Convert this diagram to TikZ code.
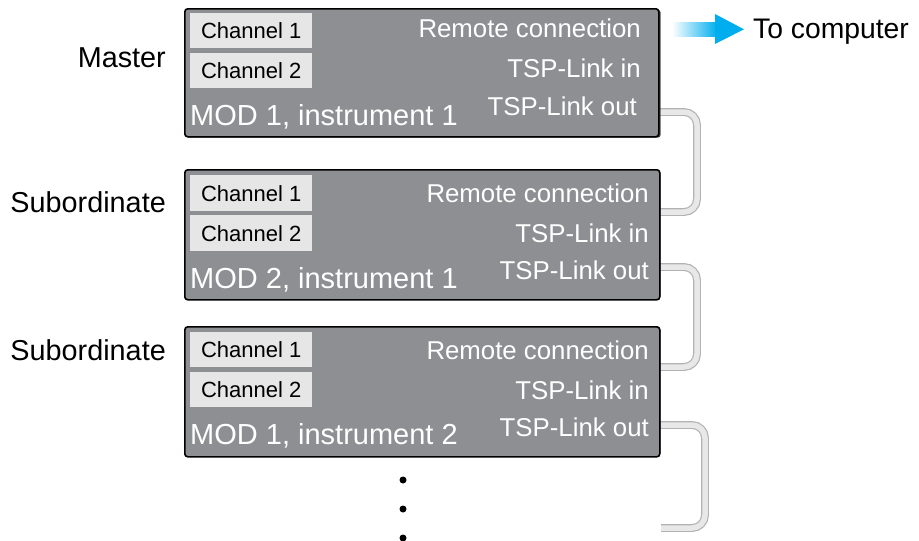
\documentclass[tikz,border=0pt]{standalone}
\usepackage{fontspec}
\setmainfont{Liberation Sans}
\usetikzlibrary{shadings}
\definecolor{boxgray}{HTML}{8E8F93}
\definecolor{chgray}{HTML}{E6E6E6}
\definecolor{pipeout}{HTML}{B2B2B2}
\definecolor{pipein}{HTML}{E8E8E8}
\definecolor{arrowcyan}{HTML}{00AEEF}
\tikzset{
  modbox/.style={draw=black, line width=1.6pt, fill=boxgray, rounded corners=3pt, anchor=north west, minimum width=475pt, minimum height=128pt, inner sep=0pt},
  modshadow/.style={fill=black!70, rounded corners=3pt, anchor=north west, minimum width=475pt, minimum height=128pt, inner sep=0pt},
  chbox/.style={fill=chgray, anchor=north west, minimum width=122pt, minimum height=35pt, inner sep=0pt, font=\fontsize{22}{26}\selectfont, text=black},
  portlbl/.style={anchor=base east, inner sep=0pt, text=white, font=\fontsize{25.8}{30}\selectfont},
  modlbl/.style={anchor=base west, inner sep=0pt, text=white, font=\fontsize{29}{34}\selectfont},
  rolelbl/.style={anchor=base east, inner sep=0pt, text=black, font=\fontsize{28.8}{34}\selectfont},
  pipe/.style={draw=pipeout, line width=1.2pt, double=pipein, double distance=5.5pt, rounded corners=13pt},
  dot/.style={circle, fill=black, minimum size=7pt, inner sep=0pt}
}
\begin{document}
\begin{tikzpicture}[x=1pt, y=-1pt]
\useasboundingbox (0,0) rectangle (919,541);

% connector end points
\coordinate (out1) at (650,112);
\coordinate (in2) at (650,212);
\coordinate (out2) at (650,267);
\coordinate (in3) at (650,367);
\coordinate (out3) at (650,425);
\coordinate (end3) at (661,528);

% pipes (behind boxes)
\draw[pipe] (out1) -- (697,112) -- (697,212) -- (in2);
\draw[pipe] (out2) -- (697,267) -- (697,367) -- (in3);
\draw[pipe] (out3) -- (705,425) -- (705,528) -- (end3);

% box 1
\node[modshadow] (s1) at (185.5,9.5) {};
\node[modbox, minimum width=474pt] (b1) at (184,8) {};
\node[chbox] (b1c1) at (190,13) {Channel 1};
\node[chbox] (b1c2) at (190,53) {Channel 2};
\node[modlbl] (b1m) at (190,125) {MOD 1, instrument 1};
\node[portlbl] (b1r) at (641,37) {Remote connection};
\node[portlbl] (b1i) at (641,77) {TSP-Link in};
\node[portlbl] (b1o) at (637,115) {TSP-Link out};
\node[rolelbl] (m) at (166,67) {Master};

% box 2
\node[modshadow] (s2) at (185.5,170.5) {};
\node[modbox, minimum height=130pt] (b2) at (184,169) {};
\node[chbox, minimum height=36pt] (b2c1) at (190,175) {Channel 1};
\node[chbox, minimum height=36pt] (b2c2) at (190,215) {Channel 2};
\node[modlbl] (b2m) at (190,288) {MOD 2, instrument 1};
\node[portlbl] (b2r) at (649,202) {Remote connection};
\node[portlbl] (b2i) at (649,242) {TSP-Link in};
\node[portlbl] (b2o) at (649,279) {TSP-Link out};
\node[rolelbl] (s2l) at (166,212) {Subordinate};

% box 3
\node[modshadow] (s3) at (185.5,327.5) {};
\node[modbox, minimum height=130pt] (b3) at (184,326) {};
\node[chbox] (b3c1) at (190,332) {Channel 1};
\node[chbox] (b3c2) at (190,372) {Channel 2};
\node[modlbl] (b3m) at (190,444) {MOD 1, instrument 2};
\node[portlbl] (b3r) at (649,359) {Remote connection};
\node[portlbl] (b3i) at (649,399) {TSP-Link in};
\node[portlbl] (b3o) at (649,436) {TSP-Link out};
\node[rolelbl] (s3l) at (166,360) {Subordinate};

% arrow to computer
\shade[left color=white, right color=arrowcyan] (672,22.5) rectangle (717,36);
\fill[arrowcyan] (715,14) -- (744,29.3) -- (715,44) -- cycle;
\node[anchor=base west, inner sep=0pt, font=\fontsize{28.3}{34}\selectfont] (pc) at (753,38) {To computer};

% continuation dots
\node[dot] (d1) at (403,480) {};
\node[dot] (d2) at (403,509) {};
\node[dot] (d3) at (403,538) {};
\end{tikzpicture}
\end{document}
